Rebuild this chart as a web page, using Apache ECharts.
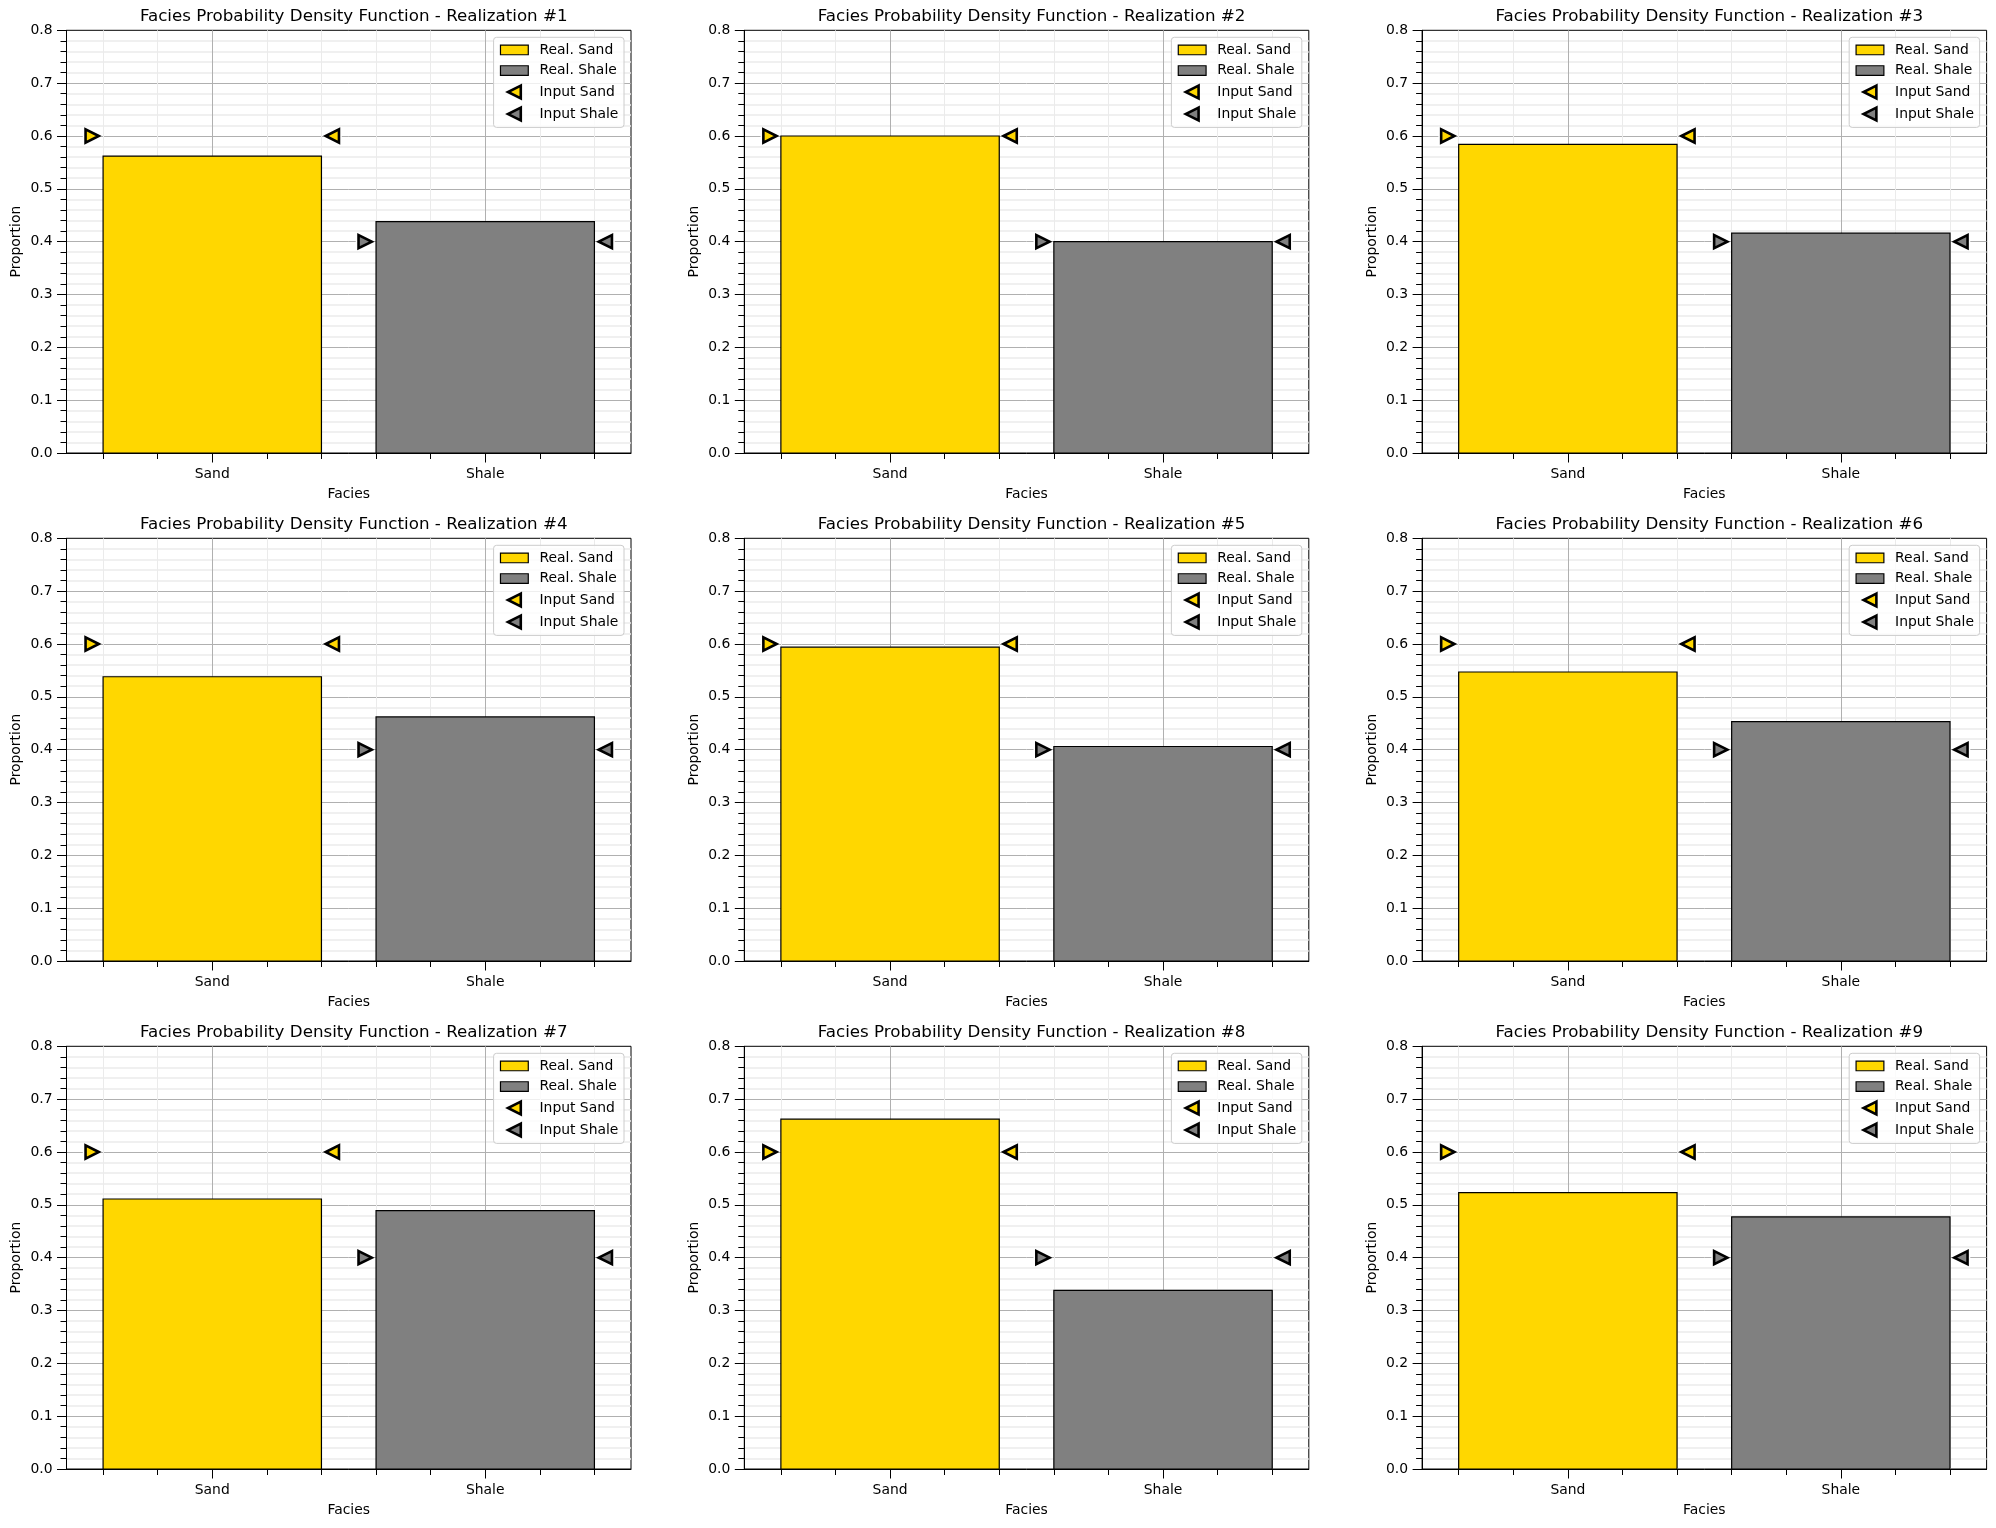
<!DOCTYPE html>
<html>
<head>
<meta charset="utf-8">
<script src="https://cdn.jsdelivr.net/npm/echarts@6/dist/echarts.min.js"></script>
<style>
html,body{margin:0;padding:0;background:#ffffff;}
#chart{width:1996px;height:1528px;}
</style>
</head>
<body>
<div id="chart"></div>
<script>
// ---------------- data ----------------
const categories = ['Sand', 'Shale'];
const realizationLabels = ['#1', '#2', '#3', '#4', '#5', '#6', '#7', '#8', '#9'];
const realSand  = [0.562, 0.600, 0.584, 0.538, 0.594, 0.547, 0.511, 0.662, 0.523];
const realShale = [0.438, 0.400, 0.416, 0.462, 0.406, 0.453, 0.489, 0.338, 0.477];
const inputProportions = [0.6, 0.4];          // input Sand, input Shale
const minorXTicks = [-0.4, -0.2, 0.2, 0.4, 0.6, 0.8, 1.2, 1.4];

// ---------------- style / layout ----------------
const W = 1996, H = 1528;
const FONT = 'DejaVu Sans';
const GOLD = '#FFD700', GRAY = '#808080';
const COL_LEFT = [66.5, 744.3, 1422.1];
const ROW_TOP = [30.3, 538.3, 1046.3];
const GW = 564.5, GH = 422.7;
const BAR_W = 0.8, MARK_PAD = 0.04;
const X_MIN = -0.534, X_MAX = 1.534;
const TICK_FS = 13.9, TITLE_FS = 16.7;
const MARK_SIZE = 13.2, MARK_EDGE = 2.6;

const RIGHT_TRI = 'path://M10,5 L0,0 L0,10 Z';
const LEFT_TRI = 'path://M0,5 L10,0 L10,10 Z';
const RECT_ICON = 'path://M0,0 M34,16 M0,3.15 L27.8,3.15 L27.8,12.85 L0,12.85 Z';
const TRI_ICON = 'path://M0,0 M34,16 M20.3,1.6 L7.5,8 L20.3,14.4 Z';

const chart = echarts.init(document.getElementById('chart'), null, {renderer: 'canvas'});

const grids = [], xAxes = [], yAxes = [], series = [], titles = [], legends = [];

function barRender(color) {
  return function (params, api) {
    const x = api.value(0), v = api.value(1);
    const p0 = api.coord([x - BAR_W / 2, v]);
    const p1 = api.coord([x + BAR_W / 2, 0]);
    return {
      type: 'rect',
      shape: {x: p0[0], y: p0[1], width: p1[0] - p0[0], height: p1[1] - p0[1]},
      style: {fill: color, stroke: '#000000', lineWidth: 1.2}
    };
  };
}

for (let i = 0; i < 9; i++) {
  const r = Math.floor(i / 3), c = i % 3;
  const left = COL_LEFT[c], top = ROW_TOP[r];
  grids.push({
    left: left, top: top, width: GW, height: GH,
    show: true, borderColor: '#000000', borderWidth: 1, backgroundColor: 'transparent',
    containLabel: false, outerBoundsMode: 'none'
  });
  // main x axis (categories at 0 and 1)
  xAxes.push({
    gridIndex: i, type: 'value', position: 'bottom', min: X_MIN, max: X_MAX,
    name: 'Facies', nameLocation: 'middle', nameGap: 34,
    nameTextStyle: {fontFamily: FONT, fontSize: TICK_FS, color: '#000'},
    axisLine: {show: true, onZero: false, lineStyle: {color: '#000', width: 1}},
    axisTick: {show: true, length: 9.5, customValues: [0, 1], lineStyle: {color: '#000', width: 1}},
    axisLabel: {show: true, customValues: [0, 1], margin: 14,
      formatter: v => categories[Math.round(v)],
      fontFamily: FONT, fontSize: TICK_FS, color: '#000'},
    splitLine: {show: true, lineStyle: {color: '#b0b0b0', width: 1}}
  });
  // minor x axis
  xAxes.push({
    gridIndex: i, type: 'value', position: 'bottom', offset: 0, min: X_MIN, max: X_MAX,
    axisLine: {show: false, onZero: false},
    axisTick: {show: true, length: 6, customValues: minorXTicks, lineStyle: {color: '#000', width: 1}},
    axisLabel: {show: false},
    splitLine: {show: true, lineStyle: {color: '#ebebeb', width: 1}}
  });
  yAxes.push({
    gridIndex: i, type: 'value', position: 'left', min: 0, max: 0.8, interval: 0.1,
    name: 'Proportion', nameLocation: 'middle', nameGap: 43,
    nameTextStyle: {fontFamily: FONT, fontSize: TICK_FS, color: '#000'},
    axisLine: {show: true, onZero: false, lineStyle: {color: '#000', width: 1}},
    axisTick: {show: true, length: 9.5, lineStyle: {color: '#000', width: 1}},
    minorTick: {show: true, splitNumber: 5, length: 6, lineStyle: {color: '#000', width: 1}},
    axisLabel: {margin: 14, fontFamily: FONT, fontSize: TICK_FS, color: '#000',
      formatter: v => v.toFixed(1)},
    splitLine: {show: true, showMinLine: false, showMaxLine: false, lineStyle: {color: '#b0b0b0', width: 1}},
    minorSplitLine: {show: true, lineStyle: {color: '#ececec', width: 1.5}}
  });

  const xi = 2 * i;
  series.push({
    type: 'custom', name: 'Real. Sand', xAxisIndex: xi, yAxisIndex: i, z: 2,
    itemStyle: {color: GOLD}, renderItem: barRender(GOLD),
    data: [[0, realSand[i]]]
  });
  series.push({
    type: 'custom', name: 'Real. Shale', xAxisIndex: xi, yAxisIndex: i, z: 2,
    itemStyle: {color: GRAY}, renderItem: barRender(GRAY),
    data: [[1, realShale[i]]]
  });
  // marker positions: just outside each bar's edges at the input proportion
  const markPts = [];
  [0, 1].forEach(k => {
    markPts.push({value: [k - BAR_W / 2 - MARK_PAD, inputProportions[k]], symbol: RIGHT_TRI, k: k});
    markPts.push({value: [k + BAR_W / 2 + MARK_PAD, inputProportions[k]], symbol: LEFT_TRI, k: k});
  });
  series.push({
    type: 'scatter', name: '_halo', xAxisIndex: xi, yAxisIndex: i, z: 3, silent: true,
    symbolSize: MARK_SIZE + MARK_EDGE + 3,
    itemStyle: {color: '#ffffff', opacity: 1},
    data: markPts.map(p => ({value: p.value, symbol: p.symbol}))
  });
  series.push({
    type: 'scatter', name: 'Input Sand', xAxisIndex: xi, yAxisIndex: i, z: 4,
    symbolSize: MARK_SIZE,
    itemStyle: {color: GOLD, borderColor: '#000', borderWidth: MARK_EDGE, borderJoin: 'miter', borderMiterLimit: 10, opacity: 1},
    data: markPts.filter(p => p.k === 0).map(p => ({value: p.value, symbol: p.symbol}))
  });
  series.push({
    type: 'scatter', name: 'Input Shale', xAxisIndex: xi, yAxisIndex: i, z: 4,
    symbolSize: MARK_SIZE,
    itemStyle: {color: GRAY, borderColor: '#000', borderWidth: MARK_EDGE, borderJoin: 'miter', borderMiterLimit: 10, opacity: 1},
    data: markPts.filter(p => p.k === 1).map(p => ({value: p.value, symbol: p.symbol}))
  });

  titles.push({
    text: 'Facies Probability Density Function - Realization ' + realizationLabels[i],
    left: left + GW / 2, textAlign: 'center', top: top - 27.5,
    textStyle: {fontFamily: FONT, fontSize: TITLE_FS, fontWeight: 'normal', color: '#000'}
  });
  legends.push({
    orient: 'vertical', right: W - (left + GW - 7), top: top + 7,
    itemWidth: 34, itemHeight: 16, itemGap: 3.5, padding: [4, 5.6, 4, 5.6],
    backgroundColor: 'rgba(255,255,255,0.8)', borderColor: '#cccccc', borderWidth: 1, borderRadius: 3,
    textStyle: {fontFamily: FONT, fontSize: TICK_FS, lineHeight: 16, color: '#000'},
    selectedMode: false,
    data: [
      {name: 'Real. Sand', icon: RECT_ICON, itemStyle: {color: GOLD, borderColor: '#000', borderWidth: 1.2}},
      {name: 'Real. Shale', icon: RECT_ICON, itemStyle: {color: GRAY, borderColor: '#000', borderWidth: 1.2}},
      {name: 'Input Sand', icon: TRI_ICON, itemStyle: {color: GOLD, borderColor: '#000', borderWidth: MARK_EDGE, borderJoin: 'miter'}},
      {name: 'Input Shale', icon: TRI_ICON, itemStyle: {color: GRAY, borderColor: '#000', borderWidth: MARK_EDGE, borderJoin: 'miter'}}
    ]
  });
}

chart.setOption({
  animation: false,
  backgroundColor: '#ffffff',
  textStyle: {fontFamily: FONT},
  title: titles,
  legend: legends,
  grid: grids,
  xAxis: xAxes,
  yAxis: yAxes,
  series: series
});
</script>
</body>
</html>
